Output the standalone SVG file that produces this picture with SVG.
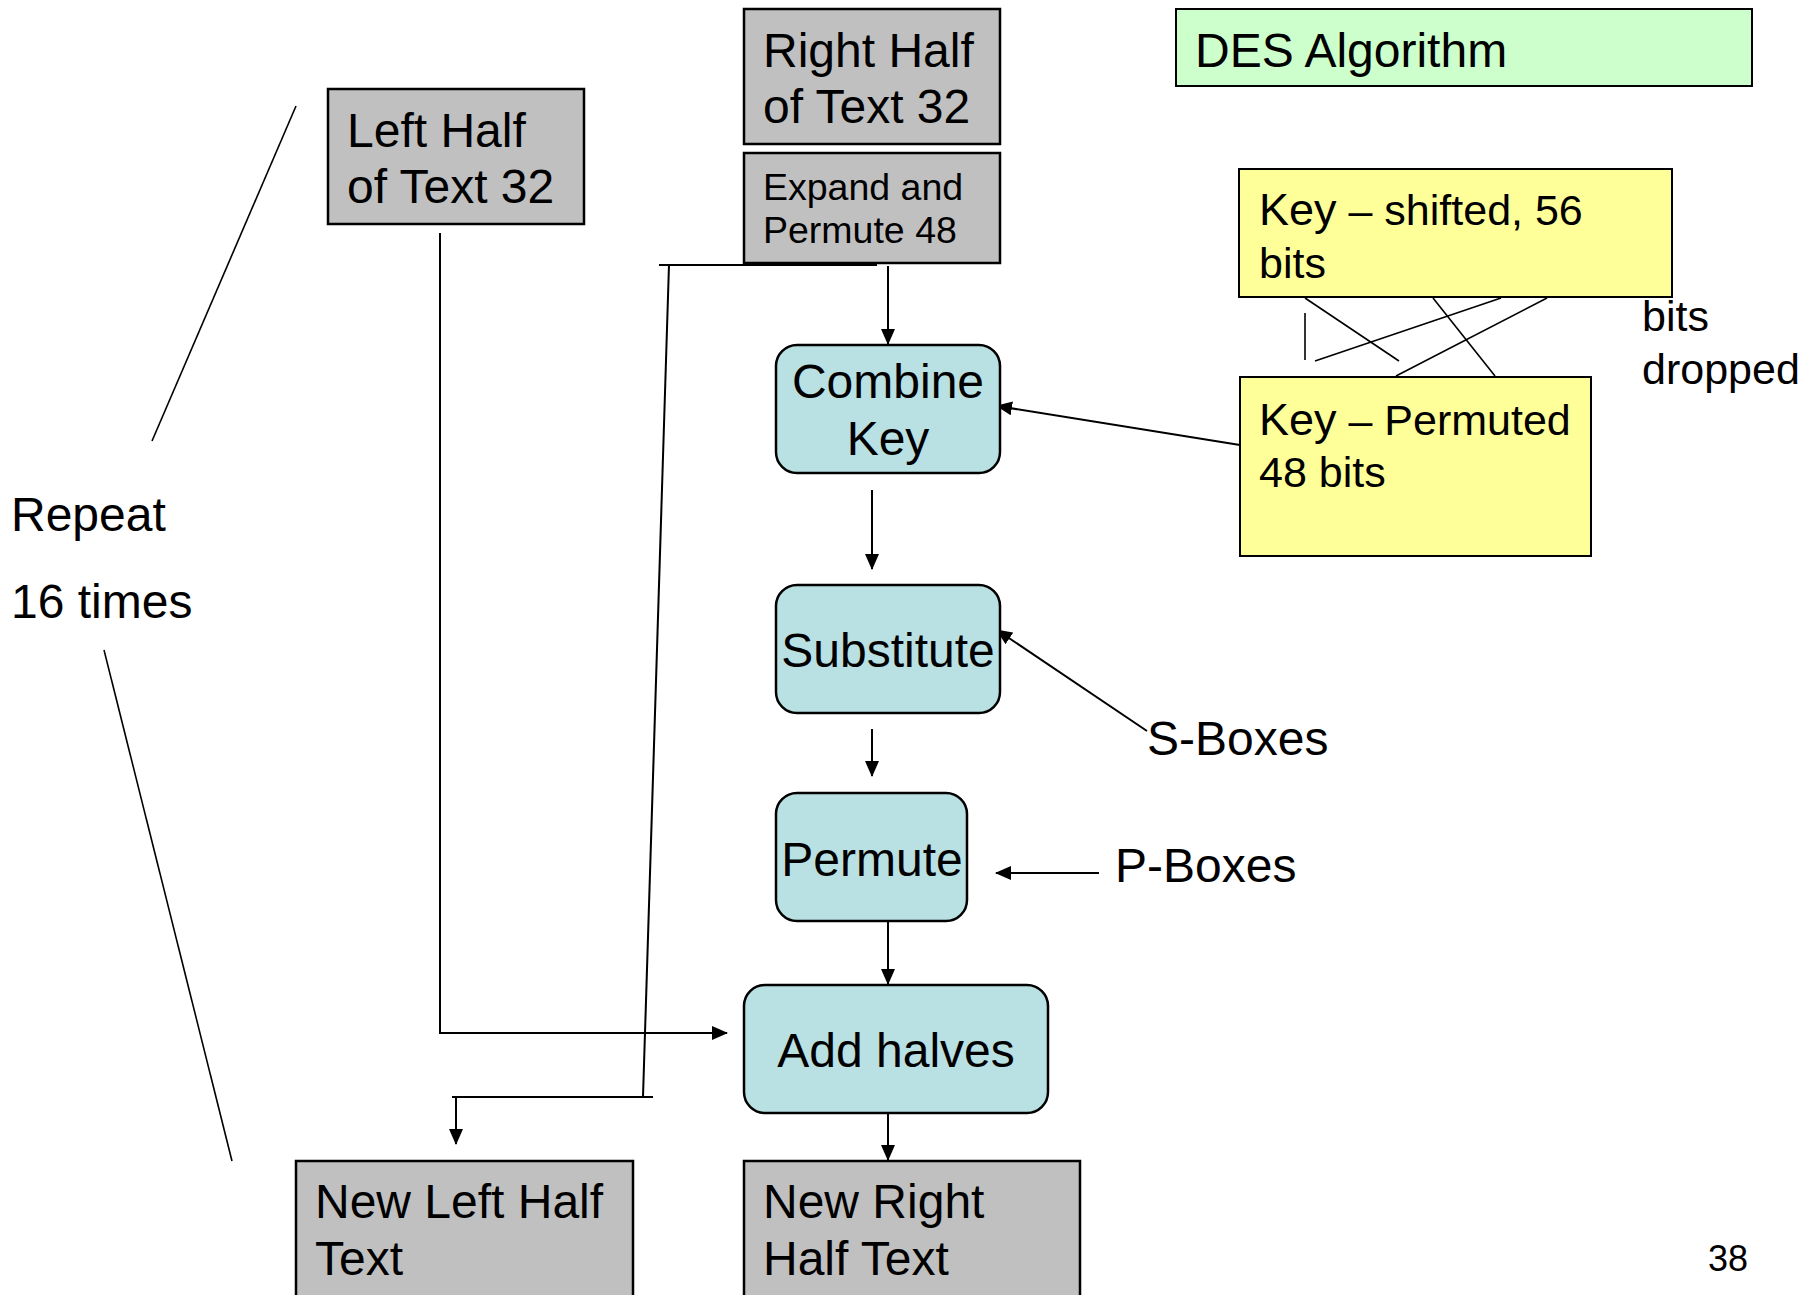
<svg xmlns="http://www.w3.org/2000/svg" width="1820" height="1295" viewBox="0 0 1820 1295">
<defs>
<marker id="ah" markerUnits="userSpaceOnUse" markerWidth="16" markerHeight="14" refX="15" refY="7" orient="auto">
<path d="M0,0 L16,7 L0,14 Z" fill="#000"/>
</marker>
<style>
text{font-family:"Liberation Sans",Arial,sans-serif;fill:#000}
.t47{font-size:48px}
.t37{font-size:37.5px}
.t42{font-size:43px}
.t44{font-size:45px}
.gray{fill:#C0C0C0;stroke:#000;stroke-width:2.5}
.cyan{fill:#B9E0E3;stroke:#000;stroke-width:2.5}
.yel{fill:#FFFF99;stroke:#000;stroke-width:2}
.grn{fill:#CCFFCC;stroke:#000;stroke-width:2}
.ln{fill:none;stroke:#000;stroke-width:2}
.thin{fill:none;stroke:#000;stroke-width:1.6}
.c{text-anchor:middle}
</style>
</defs>
<rect width="1820" height="1295" fill="#fff"/>

<g id="connectors">
<path class="ln" d="M440,233 V1033 H727" marker-end="url(#ah)"/>
<path class="ln" d="M659,265 H877"/>
<path class="ln" d="M669,265 L643,1097"/>
<path class="ln" d="M452,1097 H653"/>
<path class="ln" d="M456,1097 V1144" marker-end="url(#ah)"/>
<path class="ln" d="M888,266 V344" marker-end="url(#ah)"/>
<path class="ln" d="M872,490 V569" marker-end="url(#ah)"/>
<path class="ln" d="M872,729 V776" marker-end="url(#ah)"/>
<path class="ln" d="M888,921 V984" marker-end="url(#ah)"/>
<path class="ln" d="M888,1113 V1160" marker-end="url(#ah)"/>
<path class="ln" d="M1240,445 L997,406" marker-end="url(#ah)"/>
<path class="ln" d="M1147,731 L997,630" marker-end="url(#ah)"/>
<path class="ln" d="M1099,873 H996" marker-end="url(#ah)"/>
<path class="thin" d="M296,106 L152,441"/>
<path class="thin" d="M104,650 L232,1161"/>
<path class="thin" d="M1305,298 L1399,361"/>
<path class="thin" d="M1305,313 V360"/>
<path class="thin" d="M1315,361 L1501,298"/>
<path class="thin" d="M1433,298 L1495,376"/>
<path class="thin" d="M1396,376 L1547,298"/>
</g>

<g id="right-half">
<rect class="gray" x="744" y="9" width="256" height="135"/>
<text class="t47" x="763" y="67">Right Half</text>
<text class="t47" x="763" y="123">of Text 32</text>
</g>
<g id="expand">
<rect class="gray" x="744" y="153" width="256" height="110"/>
<text class="t37" x="763" y="200">Expand and</text>
<text class="t37" x="763" y="243">Permute 48</text>
</g>
<g id="left-half">
<rect class="gray" x="328" y="89" width="256" height="135"/>
<text class="t47" x="347" y="147">Left Half</text>
<text class="t47" x="347" y="203">of Text 32</text>
</g>
<g id="des-title">
<rect class="grn" x="1176" y="9" width="576" height="77"/>
<text class="t47" x="1195" y="67">DES Algorithm</text>
</g>
<g id="key-shifted">
<rect class="yel" x="1239" y="169" width="433" height="128"/>
<text class="t42" x="1259" y="225"><tspan class="t44">Key</tspan> – shifted, 56</text>
<text class="t42" x="1259" y="278">bits</text>
</g>
<g id="bits-dropped">
<text class="t42" x="1642" y="331">bits</text>
<text class="t42" x="1642" y="384">dropped</text>
</g>
<g id="key-permuted">
<rect class="yel" x="1240" y="377" width="351" height="179"/>
<text class="t42" x="1259" y="435"><tspan class="t44">Key</tspan> – Permuted</text>
<text class="t42" x="1259" y="487">48 bits</text>
</g>
<g id="combine-key">
<rect class="cyan" x="776" y="345" width="224" height="128" rx="21" ry="21"/>
<text class="t47 c" x="888" y="398">Combine</text>
<text class="t47 c" x="888" y="455">Key</text>
</g>
<g id="substitute">
<rect class="cyan" x="776" y="585" width="224" height="128" rx="21" ry="21"/>
<text class="t47 c" x="888" y="667">Substitute</text>
</g>
<g id="s-boxes">
<text class="t47" x="1147" y="755">S-Boxes</text>
</g>
<g id="permute">
<rect class="cyan" x="776" y="793" width="191" height="128" rx="21" ry="21"/>
<text class="t47 c" x="872" y="876">Permute</text>
</g>
<g id="p-boxes">
<text class="t47" x="1115" y="882">P-Boxes</text>
</g>
<g id="add-halves">
<rect class="cyan" x="744" y="985" width="304" height="128" rx="21" ry="21"/>
<text class="t47 c" x="896" y="1067">Add halves</text>
</g>
<g id="new-left">
<rect class="gray" x="296" y="1161" width="337" height="150"/>
<text class="t47" x="315" y="1218">New Left Half</text>
<text class="t47" x="315" y="1275">Text</text>
</g>
<g id="new-right">
<rect class="gray" x="744" y="1161" width="336" height="150"/>
<text class="t47" x="763" y="1218">New Right</text>
<text class="t47" x="763" y="1275">Half Text</text>
</g>
<g id="repeat">
<text class="t47" x="11" y="531">Repeat</text>
<text class="t47" x="11" y="618">16 times</text>
</g>
<g id="page-number">
<text x="1708" y="1271" style="font-size:36px">38</text>
</g>
</svg>
